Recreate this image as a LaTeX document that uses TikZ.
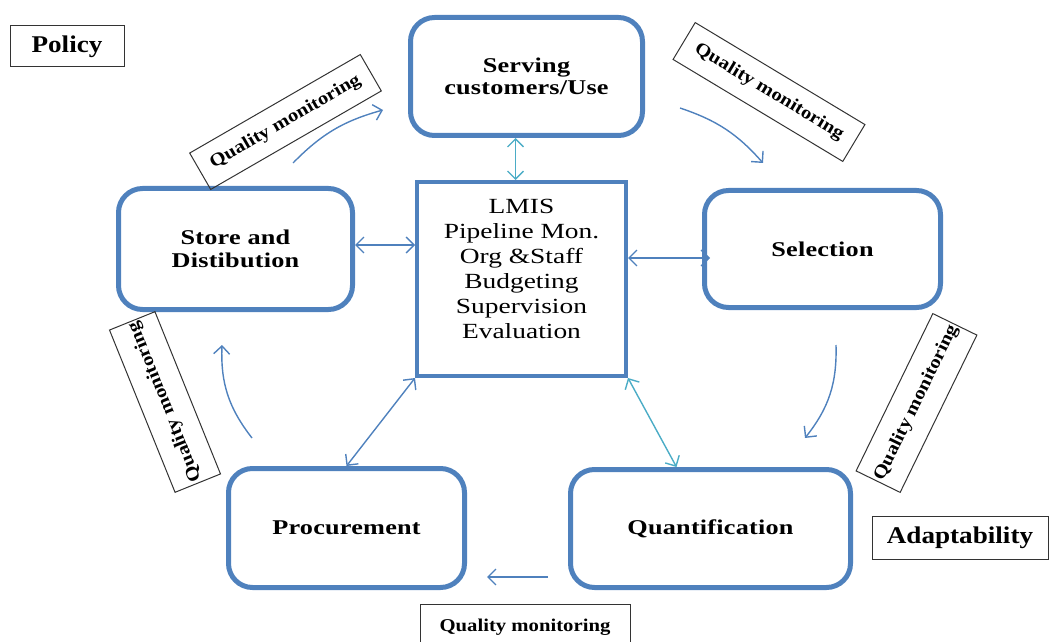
\documentclass[tikz,border=0pt]{standalone}
\usepackage{fontspec}
\setmainfont{Liberation Serif}
\newfontfamily\hubfont{Liberation Serif}[FakeStretch=1.27]
\newfontfamily\stagefont{Liberation Serif}[BoldFeatures={FakeStretch=1.25, LetterSpace=1}]
\newfontfamily\tagfont{Liberation Serif}[BoldFeatures={FakeStretch=1.13}]
\newfontfamily\qmfont{Liberation Serif}[BoldFeatures={FakeStretch=1.15}]
\usetikzlibrary{arrows.meta}
\definecolor{steel}{HTML}{4F81BD}
\definecolor{aqua}{HTML}{4BACC6}
\tikzset{
  stage/.style={rounded corners=12pt, draw=steel, line width=2.5pt, align=center,
                font=\stagefont\fontsize{10.5}{11.2}\selectfont\bfseries, inner sep=0pt},
  hub/.style={draw=steel, line width=2pt, align=center,
              font=\hubfont\fontsize{10.8}{12.5}\selectfont, inner sep=0pt},
  tag/.style={draw=black!80, line width=0.5pt, inner sep=0pt,
              font=\tagfont\fontsize{12}{14}\selectfont\bfseries},
  qm/.style={draw=black!80, line width=0.5pt, inner sep=0pt,
             font=\qmfont\fontsize{9}{10}\selectfont\bfseries},
  cyc/.style={-{Straight Barb[length=4pt,width=8pt]}, line width=0.7pt, draw=steel},
  link/.style={{Straight Barb[length=4pt,width=8pt]}-{Straight Barb[length=4pt,width=8pt]},
               line width=0.7pt, draw=steel},
  linkC/.style={link, draw=aqua},
}
\begin{document}
\begin{tikzpicture}[x=0.5pt, y=-0.5pt]
  \useasboundingbox (0,0) rectangle (1051,642);
  % stages of the cycle
  \node[stage, minimum width=116pt, minimum height=59pt] (serve) at (526.5,76.5)
    {Serving\\customers/Use};
  \node[stage, minimum width=117pt, minimum height=60.5pt] (store) at (235.5,249)
    {Store and\\Distibution};
  \node[stage, minimum width=118pt, minimum height=58.5pt] (sel) at (822.5,249)
    {Selection};
  \node[stage, minimum width=118pt, minimum height=59.5pt] (proc) at (346.5,528)
    {Procurement};
  \node[stage, minimum width=140pt, minimum height=59pt] (quant) at (710.5,528.5)
    {Quantification};
  \node[hub, minimum width=104.5pt, minimum height=97pt] (lmis) at (521.5,279)
    {LMIS\\Pipeline Mon.\\Org \&Staff\\Budgeting\\Supervision\\Evaluation\\[-2pt]\mbox{}};
  % side labels
  \node[tag, minimum width=57pt, minimum height=20.5pt] (pol) at (67,46.5) {Policy};
  \node[tag, minimum width=88pt, minimum height=21.5pt] (adapt) at (960,537.5) {Adaptability};
  \node[qm, rotate=30, minimum width=98.5pt, minimum height=21pt] (qm1) at (285.5,122)
    {Quality monitoring};
  \node[qm, rotate=-31, minimum width=99pt, minimum height=21.5pt] (qm2) at (769,92)
    {Quality monitoring};
  \node[qm, rotate=64, minimum width=87.5pt, minimum height=24.5pt] (qm3) at (916.5,403)
    {Quality monitoring};
  \node[qm, rotate=112, minimum width=87.5pt, minimum height=24.5pt] (qm4) at (165,402)
    {Quality monitoring};
  \node[qm, minimum width=105pt, minimum height=23pt] (qm5) at (525,627)
    {Quality monitoring};
  % links to the hub
  \coordinate (up) at ([xshift=-3pt]lmis.north);
  \coordinate (lt) at ([yshift=2pt]store.east);
  \coordinate (rt) at ([yshift=10.5pt]lmis.east);
  \draw[linkC] (up) -- (up |- serve.south);
  \draw[link] (lt) -- (lt -| lmis.west);
  \draw[link] (rt) -- ([xshift=4pt]rt -| sel.west);
  \draw[link] (lmis.south west) -- (proc.north);
  \draw[linkC] (lmis.south east) -- ([xshift=-17pt]quant.north);
  % cycle arrows
  \coordinate (c1a) at (293,163); \coordinate (c1b) at (383,110);
  \coordinate (c2a) at (680,108); \coordinate (c2b) at (763,163);
  \coordinate (c3a) at (836,345); \coordinate (c3b) at (805,438);
  \coordinate (c4a) at (548,577); \coordinate (c4b) at (487,577);
  \coordinate (c5a) at (252,438); \coordinate (c5b) at (222,345);
  \draw[cyc] (c1a) to[bend left=15] (c1b);
  \draw[cyc] (c2a) to[bend left=15] (c2b);
  \draw[cyc] (c3a) to[bend left=20] (c3b);
  \draw[cyc] (c4a) -- (c4b);
  \draw[cyc] (c5a) to[bend left=20] (c5b);
\end{tikzpicture}
\end{document}
